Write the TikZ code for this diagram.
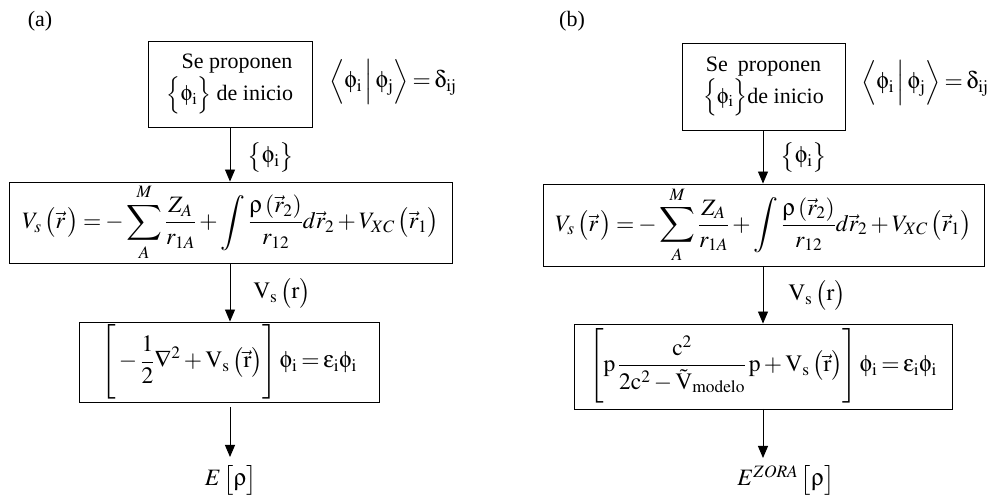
\documentclass[tikz,border=0pt]{standalone}
\usepackage{mathptmx}
\usepackage{exscale}
\usepackage[Symbol]{upgreek}
\usepackage[no-math]{fontspec}
\setmainfont{Liberation Serif}
\usetikzlibrary{arrows.meta}
\newcommand{\dl}[5]{\left#1\rule[#3]{0pt}{#4}#5\right#2}
\begin{document}
\thickmuskip=3mu\relax
\medmuskip=2.5mu\relax
\begin{tikzpicture}[x=1pt,y=-1pt,
  every node/.style={font=\fontsize{22}{27}\selectfont},
  eq/.style={font=\fontsize{23.5}{28}\selectfont},
  box/.style={draw, line width=0.9pt, inner sep=0pt, align=center},
  arr/.style={-{Triangle[width=10pt,length=12pt]}, line width=0.9pt},
  lbl/.style={inner sep=0pt}]
\useasboundingbox (0,0) rectangle (989,502);
% ---------- panel (a)
\node[lbl] (ta) at (40,21) {(a)};
\node[box, minimum width=164pt, minimum height=86pt] (a1) at (230,84)
  {\hspace*{14pt}Se proponen\\[2pt]$\dl{\{}{\}}{-7pt}{28pt}{\upphi_{\mathrm i}}$ de inicio};
\node[lbl, eq] (ao) at (393,82) {$\dl{\langle}{\rangle}{-9pt}{32pt}{\upphi_{\mathrm i}\,\middle|\,\upphi_{\mathrm j}}=\updelta_{\mathrm{ij}}$};
\node[box, eq, minimum width=443pt, minimum height=81pt] (a2) at (230.5,222.5)
  {$\displaystyle V_s\dl{(}{)}{-6pt}{26pt}{\vec r\,}=-\sum_{A}^{M}\frac{Z_A}{r_{1A}}+\int\frac{\uprho\dl{(}{)}{-4pt}{21pt}{\vec r_2}}{r_{12}}d\vec r_2+V_{XC}\dl{(}{)}{-6pt}{26pt}{\vec r_1}$};
\node[box, eq, minimum width=300pt, minimum height=80pt] (a3) at (229,362)
  {$\displaystyle\dl{[}{]}{-31pt}{70pt}{-\frac{1}{2}\nabla^2+\mathrm{V_s}\dl{(}{)}{-6pt}{26pt}{\vec{\mathrm r}}}\upphi_{\mathrm i}=\upepsilon_{\mathrm i}\upphi_{\mathrm i}$};
\node[lbl, eq] (aE) at (231,480) {$E\dl{[}{]}{-7pt}{28pt}{\uprho}$};
\node[lbl, eq] (al1) at (271,157) {$\dl{\{}{\}}{-5pt}{24pt}{\upphi_{\mathrm i}}$};
\node[lbl, eq] (al2) at (282,293) {$\mathrm{V_s}\dl{(}{)}{-6pt}{26pt}{\mathrm r}$};
\coordinate (a3s) at (230,407);
\coordinate (aEt) at (230,457);
\draw[arr] (a1.south -| 230,0) -- (a2.north -| 230,0);
\draw[arr] (a2.south -| 230,0) -- (a3.north -| 230,0);
\draw[arr] (a3s) -- (aEt);
% ---------- panel (b)
\node[lbl] (tb) at (572,21) {(b)};
\node[box, minimum width=163pt, minimum height=87pt] (b1) at (763.5,86.5)
  {Se\hspace{10pt}proponen\\[2pt]$\dl{\{}{\}}{-7pt}{28pt}{\upphi_{\mathrm i}}$de inicio};
\node[lbl, eq] (bo) at (925,83) {$\dl{\langle}{\rangle}{-9pt}{32pt}{\upphi_{\mathrm i}\,\middle|\,\upphi_{\mathrm j}}=\updelta_{\mathrm{ij}}$};
\node[box, eq, minimum width=441pt, minimum height=82pt] (b2) at (763.5,225)
  {$\displaystyle V_s\dl{(}{)}{-6pt}{26pt}{\vec r\,}=-\sum_{A}^{M}\frac{Z_A}{r_{1A}}+\int\frac{\uprho\dl{(}{)}{-4pt}{21pt}{\vec r_2}}{r_{12}}d\vec r_2+V_{XC}\dl{(}{)}{-6pt}{26pt}{\vec r_1}$};
\node[box, eq, minimum width=378pt, minimum height=85pt] (b3) at (763,366.5)
  {$\displaystyle\dl{[}{]}{-33pt}{74pt}{\mathrm{p}\,\frac{\mathrm{c}^2}{2\mathrm{c}^2-\tilde{\mathrm V}_{\mathrm{modelo}}}\,\mathrm{p}+\mathrm{V_s}\dl{(}{)}{-6pt}{26pt}{\vec{\mathrm r}}}\upphi_{\mathrm i}=\upepsilon_{\mathrm i}\upphi_{\mathrm i}$};
\node[lbl, eq] (bE) at (786,480) {$E^{ZORA}\dl{[}{]}{-7pt}{28pt}{\uprho}$};
\node[lbl, eq] (bl1) at (804,157) {$\dl{\{}{\}}{-5pt}{24pt}{\upphi_{\mathrm i}}$};
\node[lbl, eq] (bl2) at (817,295) {$\mathrm{V_s}\dl{(}{)}{-6pt}{26pt}{\mathrm r}$};
\coordinate (b3s) at (763,409);
\coordinate (bEt) at (763,458);
\draw[arr] (b1.south -| 763,0) -- (b2.north -| 763,0);
\draw[arr] (b2.south -| 763,0) -- (b3.north -| 763,0);
\draw[arr] (b3s) -- (bEt);
\end{tikzpicture}
\end{document}
